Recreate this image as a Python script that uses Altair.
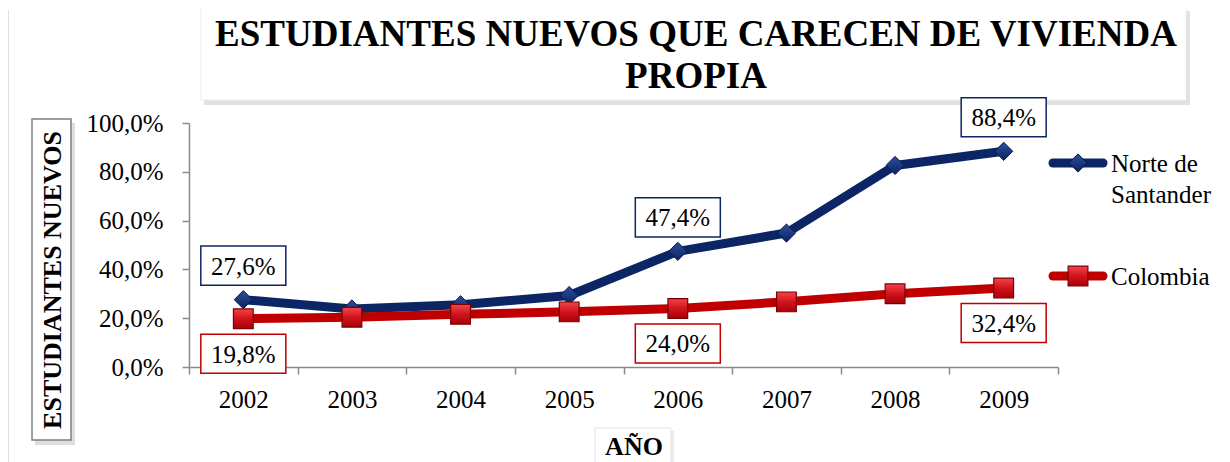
import altair as alt
import pandas as pd

# ---------------- data ----------------
years = [2002, 2003, 2004, 2005, 2006, 2007, 2008, 2009]
series = ["Norte de Santander", "Colombia"]
norte = [27.6, 23.8, 25.5, 29.3, 47.4, 54.9, 82.6, 88.4]
colombia = [19.8, 20.4, 21.6, 22.6, 24.0, 26.7, 30.0, 32.4]
labelled_years = [2002, 2006, 2009]
y_ticks = [0, 20, 40, 60, 80, 100]
title_lines = ["ESTUDIANTES NUEVOS QUE CARECEN DE VIVIENDA", "PROPIA"]
y_title = "ESTUDIANTES NUEVOS"
x_title = "AÑO"
legend_lines = [["Norte de", "Santander"], ["Colombia"]]

NAVY = "#0B2565"
RED = "#C00000"
GRAY = "#8A8A8A"
SERIF = "Liberation Serif"

DIAMOND_FILL = alt.Gradient(gradient="linear", x1=0, x2=0, y1=0, y2=1,
                            stops=[alt.GradientStop(color="#2D4E9E", offset=0),
                                   alt.GradientStop(color="#0C2260", offset=1)])
SQUARE_FILL = alt.Gradient(gradient="linear", x1=0, x2=0, y1=0, y2=1,
                           stops=[alt.GradientStop(color="#F4444A", offset=0),
                                  alt.GradientStop(color="#D0141C", offset=0.5),
                                  alt.GradientStop(color="#A8000A", offset=1)])


def fmt(v):
    return f"{v:.1f}".replace(".", ",") + "%"


rows = []
for s, vals in zip(series, [norte, colombia]):
    for yr, v in zip(years, vals):
        rows.append({"year": yr, "serie": s, "value": v,
                     "label": fmt(v) if yr in labelled_years else ""})
df = pd.DataFrame(rows)

x_enc = alt.X(
    "year:Q",
    scale=alt.Scale(domain=[years[0] - 0.5, years[-1] + 0.5], nice=False, zero=False),
    axis=alt.Axis(
        values=[years[0] - 0.5 + i for i in range(len(years) + 1)],
        title=None, grid=False,
        tickSize=7, tickColor=GRAY, tickWidth=1.5,
        domainColor=GRAY, domainWidth=1.5,
        labelExpr=f"datum.value < {years[-1]} ? toString(datum.value + 0.5) : ''",
        labelOffset=54.3, labelFlush=False, labelOverlap=False,
        labelPadding=13, labelFont=SERIF, labelFontSize=25, labelColor="black",
    ),
)
y_enc = alt.Y(
    "value:Q",
    scale=alt.Scale(domain=[0, 100], nice=False),
    axis=alt.Axis(
        values=y_ticks, title=None, grid=False,
        tickSize=7, tickColor=GRAY, tickWidth=1.5,
        domainColor=GRAY, domainWidth=1.5,
        labelExpr="replace(format(datum.value, '.1f'), '.', ',') + '%'",
        labelFlush=False, labelPadding=19,
        labelFont=SERIF, labelFontSize=25, labelColor="black",
    ),
)
color_enc = alt.Color("serie:N", scale=alt.Scale(domain=series, range=[NAVY, RED]), legend=None)

base = alt.Chart(df).encode(x=x_enc, y=y_enc)

lines = base.mark_line(strokeWidth=9, strokeCap="round", strokeJoin="round").encode(color=color_enc)

diamonds = base.transform_filter(alt.datum.serie == series[0]).mark_point(
    shape="diamond", size=330, filled=True, fill=DIAMOND_FILL, stroke="#061A4A",
    strokeWidth=1, opacity=1)
squares = base.transform_filter(alt.datum.serie == series[1]).mark_point(
    shape="square", size=390, filled=True, fill=SQUARE_FILL, stroke="#7A0000",
    strokeWidth=1.2, opacity=1)

BOX = "M-1,-0.46L1,-0.46L1,0.46L-1,0.46Z"
lab = base.transform_filter(alt.datum.label != "")
box_n = lab.transform_filter(alt.datum.serie == series[0]).mark_point(
    shape=BOX, size=7225, filled=True, fill="white", stroke=NAVY, strokeWidth=1.5,
    opacity=1, yOffset=-34)
box_c = lab.transform_filter(alt.datum.serie == series[1]).mark_point(
    shape=BOX, size=7225, filled=True, fill="white", stroke=RED, strokeWidth=1.5,
    opacity=1, yOffset=35)
txt_n = lab.transform_filter(alt.datum.serie == series[0]).mark_text(
    font=SERIF, fontSize=25, baseline="middle", yOffset=-33, color="black").encode(text="label:N")
txt_c = lab.transform_filter(alt.datum.serie == series[1]).mark_text(
    font=SERIF, fontSize=25, baseline="middle", yOffset=36, color="black").encode(text="label:N")

one = pd.DataFrame({"t": [""]})


def rect(x, x2, y, y2, **kw):
    return alt.Chart(one).mark_rect(**kw).encode(
        x=alt.value(x), x2=alt.value(x2), y=alt.value(y), y2=alt.value(y2))


# decorations
frame = alt.Chart(one).mark_rule(color="#d6d6d6", strokeWidth=1.5).encode(
    x=alt.value(-181), y=alt.value(-113), y2=alt.value(345))
title_shadow = rect(15, 1001, -112, -18, fill="#bdbdbd", opacity=0.45)
title_box = rect(12, 997, -116, -23, fill="white", stroke="#ececec", strokeWidth=1)
title_txt = alt.Chart(pd.DataFrame({"t": ["\n".join(title_lines)]})).mark_text(
    font=SERIF, fontSize=37, fontWeight="bold", align="center", baseline="alphabetic",
    lineBreak="\n", lineHeight=42, color="black").encode(
    text="t:N", x=alt.value(507), y=alt.value(-77))

ytit_shadow = rect(-154, -114, 0, 322, fill="#bdbdbd", opacity=0.5)
ytit_box = rect(-157, -118, -4, 317, fill="white", stroke="#7f7f7f", strokeWidth=1.5)
ytit_txt = alt.Chart(pd.DataFrame({"t": [y_title]})).mark_text(
    font=SERIF, fontSize=26, fontWeight="bold", angle=270, align="center",
    baseline="middle", color="black").encode(text="t:N", x=alt.value(-136), y=alt.value(157))

xtit_shadow = rect(409, 485, 308, 350, fill="#d5d5d5", opacity=0.5)
xtit_box = rect(406, 482, 305, 345, fill="white", stroke="#e3e3e3", strokeWidth=1)
xtit_txt = alt.Chart(pd.DataFrame({"t": [x_title]})).mark_text(
    font=SERIF, fontSize=26, fontWeight="bold", align="center", baseline="alphabetic",
    color="black").encode(text="t:N", x=alt.value(445), y=alt.value(332))

# legend
leg_n_line = alt.Chart(one).mark_rule(color=NAVY, strokeWidth=9, strokeCap="round").encode(
    x=alt.value(864), x2=alt.value(914), y=alt.value(40))
leg_n_pt = alt.Chart(one).mark_point(shape="diamond", size=330, filled=True, fill=DIAMOND_FILL,
                                     stroke="#061A4A", strokeWidth=1, opacity=1).encode(
    x=alt.value(889), y=alt.value(40))
leg_n_txt = alt.Chart(pd.DataFrame({"t": ["\n".join(legend_lines[0])]})).mark_text(
    font=SERIF, fontSize=25, align="left", baseline="alphabetic", lineBreak="\n",
    lineHeight=31, color="black").encode(text="t:N", x=alt.value(922), y=alt.value(49))
leg_c_line = alt.Chart(one).mark_rule(color=RED, strokeWidth=9, strokeCap="round").encode(
    x=alt.value(864), x2=alt.value(914), y=alt.value(153))
leg_c_pt = alt.Chart(one).mark_point(shape="square", size=390, filled=True, fill=SQUARE_FILL,
                                     stroke="#7A0000", strokeWidth=1.2, opacity=1).encode(
    x=alt.value(889), y=alt.value(153))
leg_c_txt = alt.Chart(pd.DataFrame({"t": ["\n".join(legend_lines[1])]})).mark_text(
    font=SERIF, fontSize=25, align="left", baseline="alphabetic", color="black").encode(
    text="t:N", x=alt.value(922), y=alt.value(162))

chart = alt.layer(
    frame, title_shadow, title_box, title_txt,
    ytit_shadow, ytit_box, ytit_txt,
    xtit_shadow, xtit_box, xtit_txt,
    lines, diamonds, squares, box_n, box_c, txt_n, txt_c,
    leg_n_line, leg_n_pt, leg_n_txt, leg_c_line, leg_c_pt, leg_c_txt,
).properties(
    width=869, height=244,
    padding={"left": 181, "top": 115, "right": 164, "bottom": 95},
    autosize=alt.AutoSizeParams(type="none"),
    background="white",
).configure_view(stroke=None)

chart.save("out.html", embed_options={"renderer": "svg", "actions": False})
